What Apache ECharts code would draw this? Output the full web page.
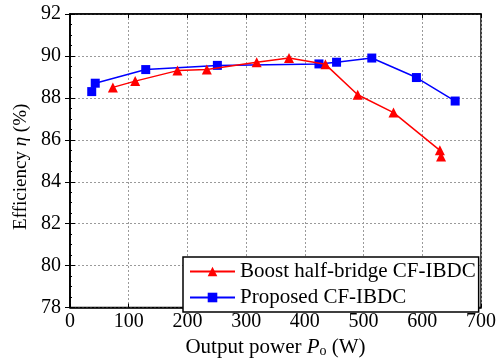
<!DOCTYPE html>
<html>
<head>
<meta charset="utf-8">
<style>
  html, body { margin: 0; padding: 0; background: #fff; }
  #main { width: 503px; height: 363px; }
</style>
</head>
<body>
<div id="main"></div>
<script src="https://cdn.jsdelivr.net/npm/echarts@6/dist/echarts.min.js"></script>
<script type="text/javascript">
    // data: [output power (W), efficiency (%)]
    var boostPower = [73, 111, 183, 233, 318, 373, 435, 490, 551, 630, 632];
    var boostEff   = [88.5, 88.8, 89.3, 89.35, 89.7, 89.9, 89.6, 88.15, 87.3, 85.5, 85.2];
    var propPower  = [37, 43, 129, 251, 424, 454, 514, 590, 656];
    var propEff    = [88.3, 88.7, 89.35, 89.55, 89.62, 89.7, 89.9, 88.97, 87.85];

    function pairs(xs, ys) {
        return xs.map(function (x, i) { return [x, ys[i]]; });
    }

    var font = "'Liberation Serif', 'Times New Roman', serif";
    var myChart = echarts.init(document.getElementById('main'));

    var option = {
        animation: false,
        textStyle: { fontFamily: font },
        grid: {
            left: 70, right: 22, top: 14, bottom: 49,
            show: true, borderColor: '#000', borderWidth: 1.5
        },
        legend: {
            orient: 'vertical',
            left: 183, top: 257,
            padding: [4, 3, 4, 6],
            itemWidth: 45, itemHeight: 12, itemGap: 5,
            backgroundColor: '#fff',
            borderColor: '#000', borderWidth: 1.5,
            textStyle: { fontFamily: font, fontSize: 21, color: '#000', width: 236, overflow: 'none' },
            data: ['Boost half-bridge CF-IBDC', 'Proposed CF-IBDC']
        },
        xAxis: [{
            type: 'value', min: 0, max: 700, interval: 100,
            name: '{n|Output power }{i|P}{s|o}{n| (W)}',
            nameLocation: 'middle', nameGap: 27,
            nameTextStyle: {
                rich: {
                    n: { fontFamily: font, fontSize: 21, color: '#000' },
                    i: { fontFamily: font, fontSize: 21, fontStyle: 'italic', color: '#000' },
                    s: { fontFamily: font, fontSize: 14, color: '#000', padding: [8, 0, 0, 0] }
                }
            },
            axisLine: { show: true, lineStyle: { color: '#000', width: 1.5 } },
            axisTick: { show: true, inside: true, length: 4, lineStyle: { color: '#000' } },
            axisLabel: { fontFamily: font, fontSize: 20, color: '#000', margin: 4 },
            splitLine: { show: true, lineStyle: { color: '#9a9a9a', type: [2, 2], width: 1 } }
        }, {
            type: 'value', min: 0, max: 700, interval: 100, position: 'top',
            axisLine: { show: true, lineStyle: { color: '#000', width: 1.5 } },
            axisTick: { show: true, inside: true, length: 4, lineStyle: { color: '#000' } },
            axisLabel: { show: false },
            splitLine: { show: false }
        }],
        yAxis: [{
            type: 'value', min: 78, max: 92, interval: 2,
            name: '{n|Efficiency }{i|η}{n| (%)}',
            nameLocation: 'middle', nameGap: 28, nameRotate: 90,
            nameTextStyle: {
                padding: [0, 12, 0, 0],
                rich: {
                    n: { fontFamily: font, fontSize: 19, color: '#000' },
                    i: { fontFamily: font, fontSize: 19, fontStyle: 'italic', color: '#000' }
                }
            },
            axisLine: { show: true, lineStyle: { color: '#000', width: 1.5 } },
            axisTick: { show: true, inside: true, length: 5, lineStyle: { color: '#000' } },
            minorTick: { show: true, splitNumber: 4, length: 2, lineStyle: { color: '#000' } },
            axisLabel: { fontFamily: font, fontSize: 20, color: '#000', margin: 9 },
            splitLine: { show: true, lineStyle: { color: '#9a9a9a', type: [2, 2], width: 1 } }
        }, {
            type: 'value', min: 78, max: 92, interval: 2, position: 'right',
            axisLine: { show: true, lineStyle: { color: '#000', width: 1.5 } },
            axisTick: { show: true, inside: true, length: 5, lineStyle: { color: '#000' } },
            axisLabel: { show: false },
            splitLine: { show: false }
        }],
        series: [{
            name: 'Boost half-bridge CF-IBDC',
            type: 'line',
            data: pairs(boostPower, boostEff),
            symbol: 'triangle', symbolSize: 10,
            color: '#ff0000',
            lineStyle: { color: '#ff0000', width: 1.5 },
            itemStyle: { color: '#ff0000' },
            z: 3
        }, {
            name: 'Proposed CF-IBDC',
            type: 'line',
            data: pairs(propPower, propEff),
            symbol: 'rect', symbolSize: 9,
            color: '#0000ff',
            lineStyle: { color: '#0000ff', width: 1.5 },
            itemStyle: { color: '#0000ff' },
            z: 2
        }]
    };

    myChart.setOption(option);
</script>
</body>
</html>
